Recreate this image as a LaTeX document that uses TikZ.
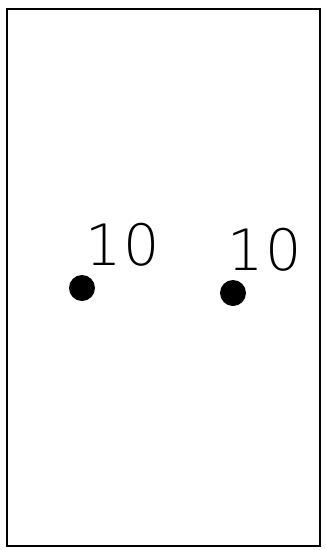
\documentclass[tikz,border=0pt]{standalone}
\usepackage{fontspec}
\usepackage{tikz}
\usetikzlibrary{positioning}
\newfontfamily\valfont{DejaVu Sans}[UprightFont=* ExtraLight,LetterSpace=3]

\begin{document}
\begin{tikzpicture}[x=1pt,y=-1pt,
  frame/.style={draw=black,line width=1.6pt},
  dot/.style={circle,fill=black,inner sep=0pt,minimum size=26pt},
  val/.style={font=\valfont\fontsize{57}{57}\selectfont,inner sep=0pt,anchor=center}]
\useasboundingbox (0,0) rectangle (326,550);
\draw[frame] (7,9) rectangle (320,546);
\node[dot] (p1) at (82,288) {};
\node[dot] (p2) at (233,293) {};
\node[val] (v1) at (123,245) {10};
\node[val] (v2) at (265,250) {10};
\end{tikzpicture}
\end{document}
